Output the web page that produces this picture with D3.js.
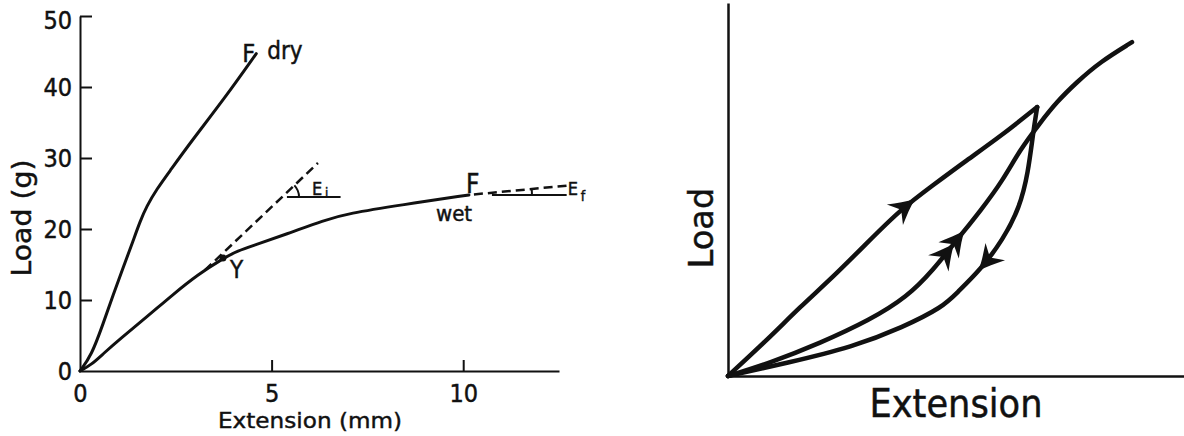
<!DOCTYPE html>
<html><head><meta charset="utf-8">
<script src="https://cdn.jsdelivr.net/npm/d3@7"></script>
<style>
html,body{margin:0;padding:0;background:#fff;}
svg{display:block;}
text{font-family:"DejaVu Sans Condensed","DejaVu Sans",sans-serif;fill:#111;stroke:#111;stroke-width:0.45px;}
text.wide{font-family:"DejaVu Sans",sans-serif;}
</style></head><body>
<svg id="c" width="1184" height="436"></svg>
<script>
// ---------- LEFT CHART DATA (Extension mm, Load g) ----------
const leftYTicks = [0, 10, 20, 30, 40, 50];
const leftXTicks = [0, 5, 10];
const dryCurve = [[0,0],[0.3,2.2],[0.6,6.6],[0.87,10.8],[1.13,14.6],[1.39,18.4],[1.57,21.1],[1.74,23.2],[2.0,25.6],[2.35,28.2],[2.87,32.1],[3.8,38.6],[4.6,44.7]];
const wetCurve = [[0,0],[0.3,0.9],[0.6,2.4],[1.04,4.5],[1.74,7.6],[2.43,10.8],[3.08,13.6],[3.75,15.9],[4.1,16.9],[4.6,17.8],[5.5,19.5],[6.35,21.2],[7.0,22.2],[8.4,23.4],[10.15,24.8]];
const yieldPoint = [3.73, 15.9];
const eiTangent = [[3.26,14.2],[6.21,29.3]];
const eiLevel = [[5.4,24.5],[6.8,24.5]];
const efTangent = [[10.15,24.8],[12.7,26.1]];
const efLevel = [[10.75,24.8],[12.7,24.8]];

// ---------- RIGHT CHART DATA (schematic, arbitrary units 0-100) ----------
const loadingCurve = [[0,0],[8.6,9.7],[15.8,18.5],[23.0,26.5],[30.5,35.7],[37.7,44.5],[45.0,51.2],[52.4,57.9],[59.6,64.1],[67.8,72.1]];
const unloadingCurve = [[67.8,72.1],[66.9,65.1],[65.8,54.4],[64.0,45.3],[60.3,36.5],[55.3,28.4],[50.2,22.3],[47.1,18.5],[38.4,13.1],[27.4,7.8],[12.9,3.5],[0,0]];
const reloadingCurve = [[0,0],[9.2,3.5],[20.2,8.8],[31.1,15.0],[39.3,21.2],[45.0,28.4],[50.2,36.5],[55.5,44.5],[60.3,52.5],[64.0,60.6],[68.4,67.8],[72.1,73.5],[76.5,78.8],[81.6,84.2],[88.6,89.5]];
const arrowsAt = [["loading",40.6],["reloading",51.5],["reloading",49.3],["unloading",55.3]];

const svg = d3.select("#c");
const ink = "#111";

// ================= LEFT =================
const xL = d3.scaleLinear().domain([0,12.5]).range([80,559]);
const yL = d3.scaleLinear().domain([0,50]).range([371,16]);

const gy = svg.append("g").attr("transform","translate(80,0)")
  .call(d3.axisLeft(yL).tickValues(leftYTicks).tickSizeInner(-12).tickSizeOuter(0).tickPadding(8).tickFormat(d3.format("d")));
const gx = svg.append("g").attr("transform","translate(0,371)")
  .call(d3.axisBottom(xL).tickValues(leftXTicks).tickSizeInner(-11).tickSizeOuter(0).tickPadding(13).tickFormat(d3.format("d")));
[gx,gy].forEach(g=>{
  g.attr("font-size",25).attr("font-family",null);
  g.select(".domain").attr("stroke",ink).attr("stroke-width",2);
  g.selectAll(".tick line").attr("stroke",ink).attr("stroke-width",2);
  g.selectAll(".tick text").attr("fill",ink);
});
gx.selectAll(".tick").filter(d=>d===0).select("line").remove();
gy.selectAll(".tick").filter(d=>d===0).select("line").remove();
gy.selectAll(".tick").filter(d=>d===50).select("text").attr("y",4);

const lineL = d3.line().x(d=>xL(d[0])).y(d=>yL(d[1])).curve(d3.curveBasis);
const straightL = d3.line().x(d=>xL(d[0])).y(d=>yL(d[1]));

svg.append("path").attr("d",lineL(dryCurve)).attr("fill","none").attr("stroke",ink).attr("stroke-width",3).attr("stroke-linecap","round");
svg.append("path").attr("d",lineL(wetCurve)).attr("fill","none").attr("stroke",ink).attr("stroke-width",3).attr("stroke-linecap","round");

svg.append("path").attr("d",straightL(eiTangent)).attr("fill","none").attr("stroke",ink).attr("stroke-width",2.5).attr("stroke-dasharray","9,5");
svg.append("path").attr("d",straightL(eiLevel)).attr("fill","none").attr("stroke",ink).attr("stroke-width",2);
svg.append("path").attr("d",straightL(efTangent)).attr("fill","none").attr("stroke",ink).attr("stroke-width",2.5).attr("stroke-dasharray","9,5").attr("stroke-dashoffset",-5);
svg.append("path").attr("d",straightL(efLevel)).attr("fill","none").attr("stroke",ink).attr("stroke-width",2);

// angle arcs
(function(){
  const [a,b] = eiTangent;
  const lev = eiLevel[0][1];
  const vx = a[0] + (lev-a[1])*(b[0]-a[0])/(b[1]-a[1]);
  const cx = xL(vx), cy = yL(lev);
  const th = Math.atan2(yL(a[1])-yL(b[1]), xL(b[0])-xL(a[0]));
  const p = d3.path(); p.arc(cx,cy,17,-th,0);
  svg.append("path").attr("d",p.toString()).attr("fill","none").attr("stroke",ink).attr("stroke-width",2);
  const [c,d] = efTangent;
  const fx = xL(c[0]), fy = yL(c[1]);
  const th2 = Math.atan2(yL(c[1])-yL(d[1]), xL(d[0])-xL(c[0]));
  const p2 = d3.path(); p2.arc(fx,fy,63,-th2,0);
  svg.append("path").attr("d",p2.toString()).attr("fill","none").attr("stroke",ink).attr("stroke-width",2);
})();

svg.append("circle").attr("cx",xL(yieldPoint[0])).attr("cy",yL(yieldPoint[1])).attr("r",3.5).attr("fill",ink);

// annotations
const dryEnd = dryCurve[dryCurve.length-1], wetEnd = wetCurve[wetCurve.length-1];
function txt(x,y,s,size,anchor){return svg.append("text").attr("x",x).attr("y",y).attr("font-size",size).attr("text-anchor",anchor||"start").text(s);}
txt(xL(dryEnd[0])-14, yL(dryEnd[1])+8, "F", 25);
txt(xL(dryEnd[0])+11, yL(dryEnd[1])+5, "dry", 24);
txt(xL(yieldPoint[0])+7, yL(yieldPoint[1])+20, "Y", 24);
txt(xL(eiLevel[0][0])+25, yL(eiLevel[0][1])-2, "E", 18);
txt(xL(eiLevel[0][0])+38, yL(eiLevel[0][1]), "i", 13);
txt(xL(wetEnd[0])-3, yL(wetEnd[1])-2, "F", 26);
txt(xL(wetEnd[0])-33, yL(wetEnd[1])+26, "wet", 22);
txt(xL(efLevel[1][0])+1, yL(efLevel[1][1]), "E", 18);
txt(xL(efLevel[1][0])+14, yL(efLevel[1][1])+6, "f", 14);

txt(310, 428, "Extension (mm)", 22, "middle").attr("class","wide").attr("textLength",184).attr("lengthAdjust","spacingAndGlyphs");
svg.append("text").attr("class","wide").attr("transform","translate(31,218) rotate(-90)").attr("font-size",26).attr("text-anchor","middle")
  .attr("textLength",117).attr("lengthAdjust","spacingAndGlyphs").text("Load (g)");

// ================= RIGHT =================
const xR = d3.scaleLinear().domain([0,100]).range([728,1184]);
const yR = d3.scaleLinear().domain([0,100]).range([376,3]);
const gxR = svg.append("g").attr("transform",`translate(0,${yR(0)})`).call(d3.axisBottom(xR).tickValues([]).tickSizeOuter(0));
const gyR = svg.append("g").attr("transform",`translate(${xR(0)},0)`).call(d3.axisLeft(yR).tickValues([]).tickSizeOuter(0));
[gxR,gyR].forEach(g=>g.select(".domain").attr("stroke",ink).attr("stroke-width",2.5));

const lineR = d3.line().x(d=>xR(d[0])).y(d=>yR(d[1])).curve(d3.curveBasis);
const curvesR = {loading:loadingCurve, unloading:unloadingCurve, reloading:reloadingCurve};
const nodes = {};
Object.entries(curvesR).forEach(([k,data])=>{
  nodes[k] = svg.append("path").attr("d",lineR(data)).attr("fill","none").attr("stroke",ink)
    .attr("stroke-width",4.5).attr("stroke-linecap","round").attr("stroke-linejoin","round").node();
});
const arrowShape = "M3,0 C-6,-3 -14,-8 -23,-13 L-15,0 L-23,13 C-14,8 -6,3 3,0 Z";
arrowsAt.forEach(([k,ux])=>{
  const node = nodes[k], L = node.getTotalLength(), tx = xR(ux);
  let best=0, bd=1e9;
  for(let s=0;s<=L;s+=0.5){const p=node.getPointAtLength(s);const d=Math.abs(p.x-tx);if(d<bd){bd=d;best=s;}}
  const p=node.getPointAtLength(best), q=node.getPointAtLength(Math.min(L,best+3));
  const ang=Math.atan2(q.y-p.y,q.x-p.x)*180/Math.PI;
  svg.append("path").attr("d",arrowShape).attr("fill",ink).attr("transform",`translate(${p.x},${p.y}) rotate(${ang})`);
});

svg.append("text").attr("x",956).attr("y",417).attr("font-size",39).attr("text-anchor","middle")
  .attr("textLength",173).attr("lengthAdjust","spacingAndGlyphs").text("Extension");
svg.append("text").attr("class","wide").attr("transform","translate(713,228) rotate(-90)").attr("font-size",33).attr("text-anchor","middle")
  .attr("textLength",81).attr("lengthAdjust","spacingAndGlyphs").text("Load");
</script>
</body></html>
